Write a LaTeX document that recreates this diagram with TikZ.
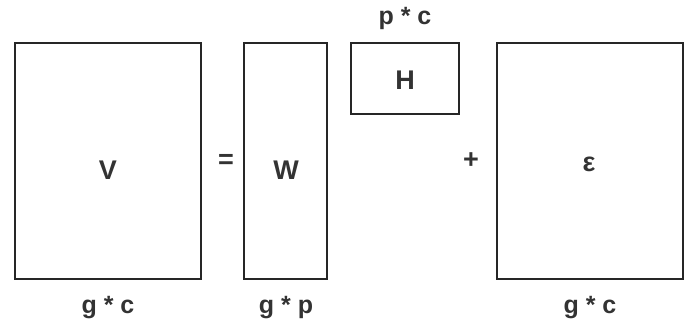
\documentclass[tikz,border=0pt]{standalone}
\usepackage{fontspec}
\setmainfont{Liberation Sans}
\begin{document}
\begin{tikzpicture}[x=1pt,y=-1pt,
  mat/.style={draw=black!85,line width=2.3pt,inner sep=0pt},
  lbl/.style={font=\fontsize{25}{30}\selectfont\bfseries,text=black!80,inner sep=0pt},
  big/.style={font=\fontsize{27}{32}\selectfont\bfseries,text=black!80,inner sep=0pt}]
\useasboundingbox (0,0) rectangle (689,325);
\draw[mat] (15,43) rectangle (201,279);
\draw[mat] (244,43) rectangle (327,279);
\draw[mat] (351,43) rectangle (459,114);
\draw[mat] (497,43) rectangle (683,279);
\node[big] (V) at (108,170) {V};
\node[big] (W) at (286,170) {W};
\node[big] (H) at (405,80) {H};
\node[big] (E) at (589,164) {ε};
\node[big] (eq) at (226,161) {=};
\node[big] (pl) at (471,161) {+};
\node[lbl] (l1) at (108,308) {g * c};
\node[lbl] (l2) at (286,308) {g * p};
\node[lbl] (l3) at (405,18) {p * c};
\node[lbl] (l4) at (590,308) {g * c};
\end{tikzpicture}
\end{document}
